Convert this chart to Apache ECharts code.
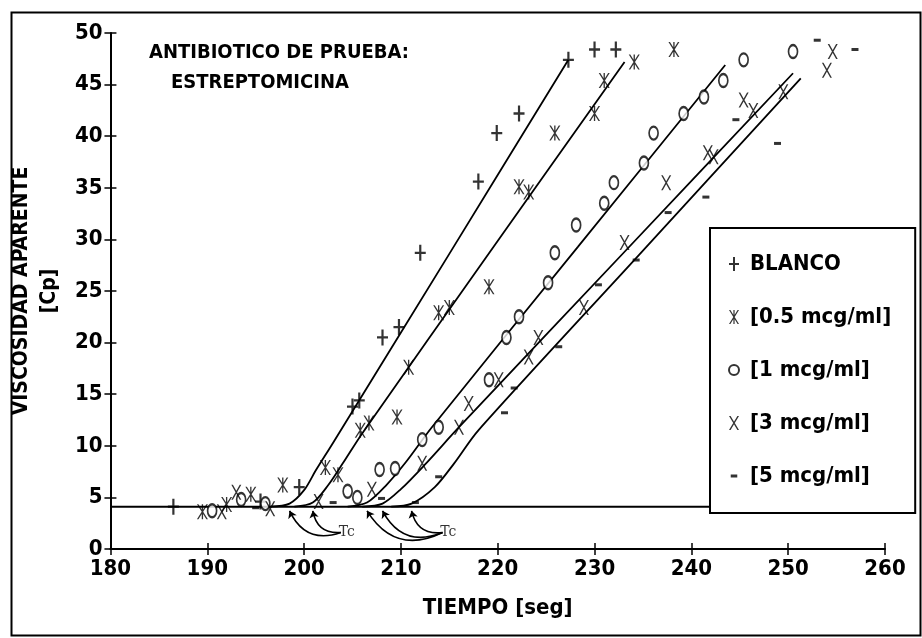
<!DOCTYPE html>
<html><head><meta charset="utf-8">
<script src="https://cdn.jsdelivr.net/npm/echarts@6/dist/echarts.min.js"></script>
<style>html,body{margin:0;padding:0;background:#fff}#c{width:922px;height:638px}</style>
</head><body><div id="c"></div>
<script>
// ---- data ----
const seriesNames = ['BLANCO', '[0.5 mcg/ml]', '[1 mcg/ml]', '[3 mcg/ml]', '[5 mcg/ml]'];
const blanco = [[186.5,4.1],[195.5,4.6],[199.5,6.0],[205.0,13.8],[205.7,14.4],[208.1,20.5],[209.8,21.5],[212.0,28.7],[218.0,35.6],[219.9,40.3],[222.2,42.2],[227.3,47.4],[230.0,48.4],[232.2,48.4]];
const mcg05 = [[189.5,3.6],[192.0,4.3],[194.5,5.3],[197.8,6.2],[202.2,7.9],[203.5,7.2],[205.8,11.5],[206.7,12.2],[209.6,12.8],[210.8,17.6],[213.9,22.9],[215.0,23.4],[219.1,25.4],[222.2,35.1],[223.2,34.6],[225.9,40.3],[230.0,42.2],[231.0,45.4],[234.1,47.2],[238.2,48.4]];
const mcg1 = [[190.5,3.7],[193.5,4.8],[196.0,4.4],[204.5,5.6],[205.5,5.0],[207.8,7.7],[209.4,7.8],[212.2,10.6],[213.9,11.8],[219.1,16.4],[220.9,20.5],[222.2,22.5],[225.2,25.8],[225.9,28.7],[228.1,31.4],[231.0,33.5],[232.0,35.5],[235.1,37.4],[236.1,40.3],[239.2,42.2],[241.3,43.8],[243.3,45.4],[245.4,47.4],[250.5,48.2]];
const mcg3 = [[191.5,3.6],[193.0,5.5],[196.5,3.9],[201.5,4.6],[207.0,5.8],[212.2,8.3],[216.0,11.8],[217.0,14.1],[220.1,16.4],[223.2,18.6],[224.2,20.5],[228.9,23.4],[233.1,29.7],[237.4,35.5],[241.7,38.4],[242.3,38.0],[245.4,43.5],[246.4,42.5],[249.5,44.3],[254.0,46.4],[254.6,48.2]];
const mcg5 = [[195.0,4.0],[203.0,4.5],[208.0,4.9],[211.5,4.5],[213.9,7.0],[220.7,13.2],[221.7,15.6],[226.3,19.6],[230.4,25.6],[234.3,28.0],[237.6,32.6],[241.5,34.1],[244.6,41.6],[248.9,39.3],[253.0,49.3],[256.9,48.4]];
// fitted curves
const fitBlanco = [[196.5,4.1],[198.5,4.4],[200,5.7],[201.2,7.6],[203,10.3],[215,28.6],[227.3,47.4]];
const fit05 = [[199,4.1],[200.9,4.5],[202.5,6.2],[204,8.3],[206,11.2],[219.5,29.2],[233.1,47.2]];
const fit1 = [[204.5,4.1],[206.5,4.5],[208.5,6.2],[210.5,8.4],[213.2,11.8],[228.3,29.3],[243.5,46.9]];
const fit3 = [[206,4.1],[208.1,4.4],[210,5.8],[212.5,8.2],[216,11.8],[233.2,28.9],[250.5,46.1]];
const fit5 = [[209,4.1],[211.1,4.4],[213.5,6.0],[215.5,8.3],[218,11.5],[234.6,28.5],[251.3,45.6]];
const baseline = [[180,4.1],[260,4.1]];
const tcLabels = [[204.4,1.6],[214.9,1.6]];
const tcArrows = [
  [[203.8,1.6],[198.5,3.7]],
  [[203.8,1.6],[200.9,3.7]],
  [[214.3,1.6],[206.5,3.7]],
  [[214.3,1.6],[208.1,3.7]],
  [[214.3,1.6],[211.1,3.7]]
];
const titleLines = ['ANTIBIOTICO DE PRUEBA:', 'ESTREPTOMICINA'];
const xName = 'TIEMPO [seg]';
const yName = 'VISCOSIDAD APARENTE\n[Cp]';

// ---- styling ----
const FONT = "'Liberation Sans Narrow','DejaVu Sans Condensed','Liberation Sans',sans-serif";
const symPlus = 'path://M4,0H6V6H10V8H6V14H4V8H0V6H4Z';
const symZhe = 'path://M4.4,0H5.6V14H4.4Z M0,0H1.4L10,14H8.6Z M10,0L1.4,14H0L8.6,0Z';
const symX = 'path://M0,0H1.6L10,14H8.4Z M10,0L1.6,14H0L8.4,0Z';
const symDashIcon = 'path://M0,0L0.01,0Z M1,6H8V9H1Z M9,15L9,14.99Z';
const markers = [
  {symbol: symPlus, size: [11, 16], data: blanco, icon: symPlus},
  {symbol: symZhe, size: [11, 15], data: mcg05, icon: symZhe},
  {symbol: 'emptyCircle', size: [9, 13], data: mcg1, icon: 'emptyCircle'},
  {symbol: symX, size: [10, 15], data: mcg3, icon: symX},
  {symbol: 'rect', size: [7, 3], data: mcg5, icon: symDashIcon}
];
const fits = [fitBlanco, fit05, fit1, fit3, fit5];

const series = [];
series.push({type: 'line', name: 'base', data: baseline, showSymbol: false, silent: true,
  lineStyle: {color: '#000', width: 2}, z: 1});
fits.forEach((f, i) => series.push({type: 'line', name: 'fit' + i, data: f, showSymbol: false, silent: true,
  smooth: 0.3, lineStyle: {color: '#000', width: 1.8}, z: 2}));
markers.forEach((m, i) => series.push({type: 'scatter', name: seriesNames[i], data: m.data,
  symbol: m.symbol, symbolSize: m.size,
  itemStyle: {color: '#000', borderColor: '#000', borderWidth: m.symbol === 'emptyCircle' ? 1.6 : 0}, z: 3}));
series.push({type: 'lines', coordinateSystem: 'cartesian2d', silent: true, z: 3,
  data: tcArrows.map(c => ({coords: c})),
  symbol: ['none', 'arrow'], symbolSize: 7,
  lineStyle: {color: '#000', width: 1.6, opacity: 1, curveness: 0.45}});
series.push({type: 'scatter', name: 'tc', data: tcLabels, symbolSize: 0, silent: true,
  label: {show: true, formatter: 'Tc', position: 'inside', color: '#000',
    fontFamily: "'DejaVu Serif',serif", fontSize: 14}});

const axisCommon = {
  type: 'value', splitLine: {show: false},
  axisLine: {show: true, lineStyle: {color: '#000', width: 2}},
  axisTick: {show: true, length: 6, lineStyle: {color: '#000', width: 1.5}},
  axisLabel: {color: '#000', fontFamily: FONT, fontSize: 22, fontWeight: 'bold'}
};

const chart = echarts.init(document.getElementById('c'), null, {renderer: 'canvas'});
chart.setOption({
  animation: false,
  backgroundColor: '#fff',
  title: [
    {text: titleLines[0], left: 144, top: 38, textStyle: {fontFamily: FONT, fontSize: 20, fontWeight: 'bold', color: '#000'}},
    {text: titleLines[1], left: 166, top: 68, textStyle: {fontFamily: FONT, fontSize: 20, fontWeight: 'bold', color: '#000'}}
  ],
  grid: {left: 107, right: 37, top: 33, bottom: 89, containLabel: false},
  legend: {
    data: seriesNames.map((n, i) => ({name: n, icon: markers[i].icon})),
    orient: 'vertical', left: 710, top: 228,
    backgroundColor: '#fff', borderColor: '#000', borderWidth: 2, borderRadius: 0,
    padding: [25, 24, 26, 18], itemGap: 31, itemWidth: 10, itemHeight: 14,
    textStyle: {fontFamily: FONT, fontSize: 22, fontWeight: 'bold', color: '#000', padding: [0, 0, 0, 6]},
    selectedMode: false
  },
  xAxis: [
    Object.assign({}, axisCommon, {min: 180, max: 260, interval: 10, position: 'bottom',
      name: xName, nameLocation: 'middle', nameGap: 48,
      nameTextStyle: {fontFamily: FONT, fontSize: 22, fontWeight: 'bold', color: '#000'},
      axisLabel: Object.assign({}, axisCommon.axisLabel, {margin: 9})}),
    {type: 'value', min: 180, max: 260, interval: 10, position: 'bottom', splitLine: {show: false},
      axisLine: {show: false}, axisLabel: {show: false},
      axisTick: {show: true, inside: true, length: 6, lineStyle: {color: '#000', width: 1.5}}}
  ],
  yAxis: [
    Object.assign({}, axisCommon, {min: 0, max: 50, interval: 5, position: 'left',
      name: yName, nameLocation: 'middle', nameGap: 44, nameRotate: 90,
      nameTextStyle: {fontFamily: FONT, fontSize: 21, fontWeight: 'bold', color: '#000', lineHeight: 28},
      axisLabel: Object.assign({}, axisCommon.axisLabel, {margin: 8})}),
    {type: 'value', min: 0, max: 50, interval: 5, position: 'left', splitLine: {show: false},
      axisLine: {show: false}, axisLabel: {show: false},
      axisTick: {show: true, inside: true, length: 6, lineStyle: {color: '#000', width: 1.5}}}
  ],
  graphic: [
    {type: 'rect', left: 9, top: 10, shape: {width: 909, height: 623}, z: -10,
      style: {fill: 'none', stroke: '#000', lineWidth: 2}}
  ],
  series: series
});
</script>
</body></html>
